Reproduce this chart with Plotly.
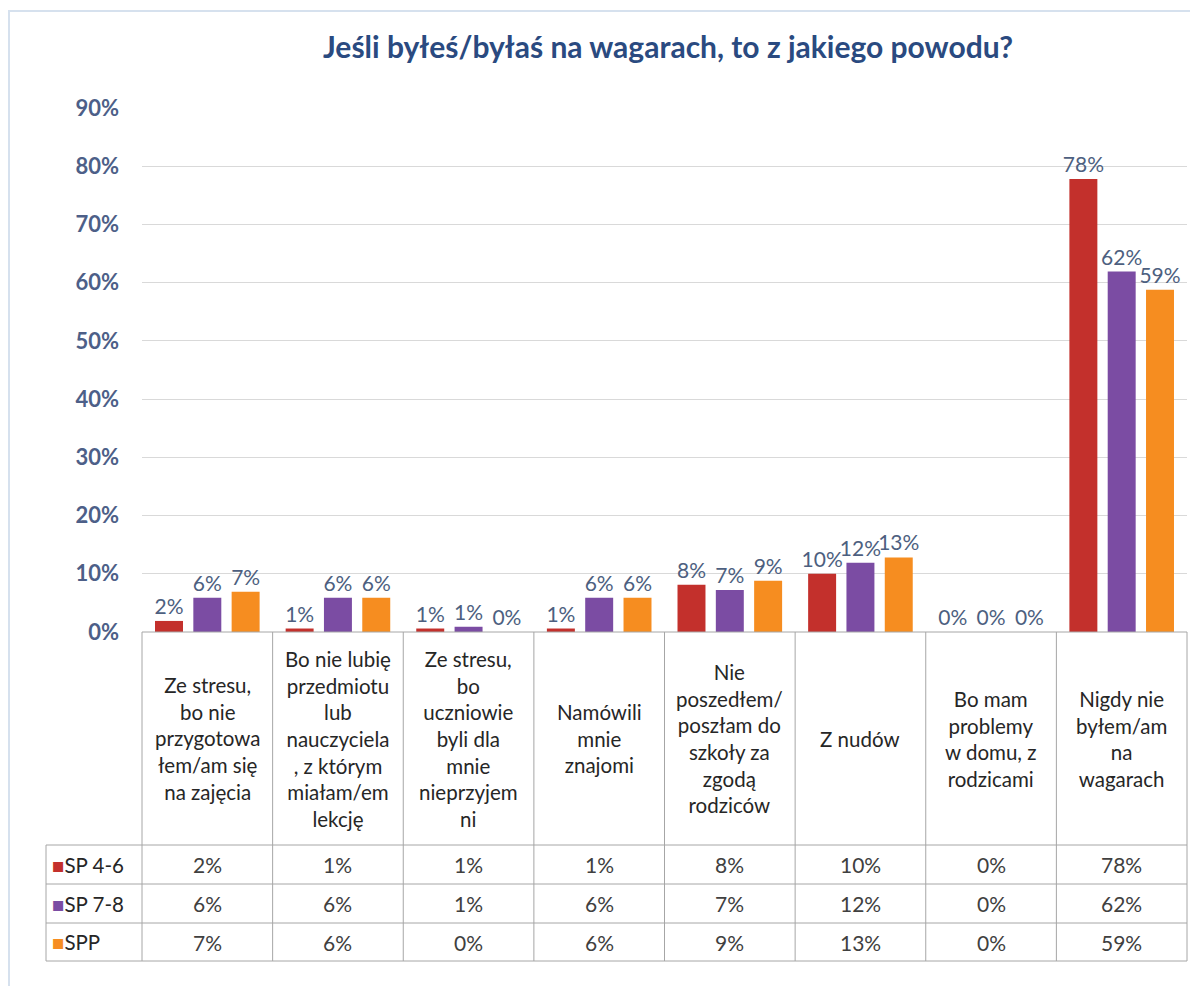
import plotly.graph_objects as go

categories = [
    "Ze stresu,<br>bo nie<br>przygotowa<br>łem/am się<br>na zajęcia",
    "Bo nie lubię<br>przedmiotu<br>lub<br>nauczyciela<br>, z którym<br>miałam/em<br>lekcję",
    "Ze stresu,<br>bo<br>uczniowie<br>byli dla<br>mnie<br>nieprzyjem<br>ni",
    "Namówili<br>mnie<br>znajomi",
    "Nie<br>poszedłem/<br>poszłam do<br>szkoły za<br>zgodą<br>rodziców",
    "Z nudów",
    "Bo mam<br>problemy<br>w domu, z<br>rodzicami",
    "Nigdy nie<br>byłem/am<br>na<br>wagarach",
]
series_names = ["SP 4-6", "SP 7-8", "SPP"]
sp46 = [1.9, 0.6, 0.6, 0.6, 8.1, 10.0, 0.0, 77.8]
sp78 = [5.9, 5.9, 0.9, 5.9, 7.2, 11.9, 0.0, 61.9]
spp = [6.9, 5.9, 0.0, 5.9, 8.8, 12.8, 0.0, 58.8]
series_values = [sp46, sp78, spp]
colors = ["#c3302c", "#7b4ca3", "#f68d20"]
y_ticks = [0, 10, 20, 30, 40, 50, 60, 70, 80, 90]

# page body has an 8px margin: work in screen pixels, convert to figure pixels
OFF = 8
W, H = 1198 - 2 * OFF, 994 - 2 * OFF
L, R, T, B = 142 - OFF, 1187 - OFF, 108 - OFF, 632 - OFF
FONT = "Lato"
n = len(categories)

def px_x(X):
    return (X - OFF - L) / (R - L)

def px_y(Y):
    return (B - (Y - OFF)) / (B - T)

fig = go.Figure()
xs = list(range(n))
for name, vals, col in zip(series_names, series_values, colors):
    fig.add_trace(go.Bar(
        x=xs, y=vals, name=name, marker=dict(color=col, line=dict(width=0)),
        texttemplate="%{y:.0f}%", textposition="outside", cliponaxis=False,
        constraintext="none",
        textfont=dict(family=FONT, size=21, color="#4d5f80"),
    ))

shapes = []
annotations = []
grid = "#a6a6a6"
row_lines = [845, 884, 923, 961]
shapes.append(dict(type="line", xref="paper", yref="paper", x0=0, x1=1,
                   y0=0, y1=0, line=dict(color=grid, width=1)))
for Y in row_lines:
    shapes.append(dict(type="line", xref="paper", yref="paper", x0=px_x(46), x1=1,
                       y0=px_y(Y), y1=px_y(Y), line=dict(color=grid, width=1)))
for i in range(n + 1):
    xp = i / n
    shapes.append(dict(type="line", xref="paper", yref="paper", x0=xp, x1=xp,
                       y0=0, y1=px_y(row_lines[-1]), line=dict(color=grid, width=1)))
shapes.append(dict(type="line", xref="paper", yref="paper", x0=px_x(46), x1=px_x(46),
                   y0=px_y(row_lines[0]), y1=px_y(row_lines[-1]),
                   line=dict(color=grid, width=1)))
shapes.append(dict(type="rect", xref="paper", yref="paper", x0=px_x(9), x1=px_x(1230),
                   y0=px_y(1040), y1=px_y(11), line=dict(color="#d6e1ee", width=2),
                   layer="below"))

for i, c in enumerate(categories):
    annotations.append(dict(text=c, xref="paper", yref="paper", x=(i + 0.5) / n,
                            y=px_y((632 + row_lines[0]) / 2), xanchor="center",
                            yanchor="middle", showarrow=False, align="center",
                            font=dict(family=FONT, size=20.5, color="#262626")))
for r, (name, vals, col) in enumerate(zip(series_names, series_values, colors)):
    yc = px_y((row_lines[r] + row_lines[r + 1]) / 2)
    annotations.append(dict(
        text=f"<span style='color:{col}'>■</span>{name}", xref="paper", yref="paper",
        x=px_x(50), y=yc, xanchor="left", yanchor="middle", showarrow=False,
        font=dict(family=FONT, size=20.5, color="#262626")))
    for i, v in enumerate(vals):
        annotations.append(dict(text=f"{v:.0f}%", xref="paper", yref="paper",
                                x=(i + 0.5) / n, y=yc, xanchor="center",
                                yanchor="middle", showarrow=False,
                                font=dict(family=FONT, size=21, color="#404040")))

fig.update_layout(
    width=W, height=H,
    margin=dict(l=L, r=W - R, t=T, b=H - B, pad=0),
    paper_bgcolor="white", plot_bgcolor="white",
    showlegend=False,
    barmode="group", bargap=0.12, bargroupgap=0.27,
    title=dict(text="<b>Jeśli byłeś/byłaś na wagarach, to z jakiego powodu?</b>",
               xref="container", yref="container", x=(668 - OFF) / W,
               y=1 - (47 - OFF) / H, xanchor="center", yanchor="middle",
               font=dict(family=FONT, size=30, color="#2a4a80")),
    xaxis=dict(range=[-0.5, n - 0.5], showticklabels=False, showgrid=False,
               zeroline=False, showline=False, ticks=""),
    yaxis=dict(range=[0, 90], tickvals=y_ticks, ticktext=[f"<b>{t}%</b>" for t in y_ticks],
               showgrid=True, gridcolor="#d9d9d9", gridwidth=1, zeroline=False,
               showline=False, ticks="", ticklabelstandoff=22,
               tickfont=dict(family=FONT, size=22, color="#4d5f88")),
    shapes=shapes, annotations=annotations,
)
fig.write_html("out.html")
